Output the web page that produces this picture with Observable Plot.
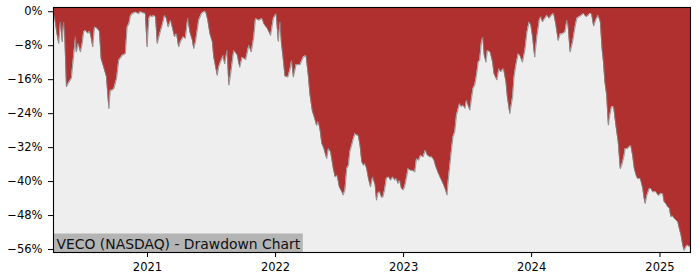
<!DOCTYPE html>
<html><head><meta charset="utf-8">
<script src="https://cdn.jsdelivr.net/npm/d3@7"></script>
<script src="https://cdn.jsdelivr.net/npm/@observablehq/plot@0.6"></script>
<style>body{margin:0;background:#fff;} #chart svg{display:block;}</style>
</head><body><div id="chart"></div>
<script>
const title = "VECO (NASDAQ) - Drawdown Chart";
const yTicks = [0, -8, -16, -24, -32, -40, -48, -56];
const xTicks = ["2021-01-01", "2022-01-01", "2023-01-01", "2024-01-01", "2025-01-01"];
const dates = [
"2020-04-08","2020-04-11","2020-04-18","2020-04-23","2020-04-28","2020-05-03","2020-05-07","2020-05-10","2020-05-15","2020-05-21",
"2020-05-29","2020-06-05","2020-06-10","2020-06-12","2020-06-18","2020-06-24","2020-06-29","2020-07-03","2020-07-08","2020-07-15",
"2020-07-20","2020-07-24","2020-07-29","2020-08-03","2020-08-10","2020-08-17","2020-08-22","2020-08-29","2020-09-06","2020-09-13",
"2020-09-17","2020-09-22","2020-09-27","2020-10-05","2020-10-11","2020-10-21","2020-10-30","2020-11-04","2020-11-09","2020-11-13",
"2020-11-18","2020-11-28","2020-12-07","2020-12-12","2020-12-20","2020-12-26","2020-12-31",
"2021-01-05","2021-01-10","2021-01-14","2021-01-19","2021-01-24","2021-01-29","2021-02-05","2021-02-12","2021-02-19","2021-02-24",
"2021-03-01","2021-03-08","2021-03-15","2021-03-19","2021-03-25","2021-03-31","2021-04-05","2021-04-13","2021-04-19","2021-04-26",
"2021-05-02","2021-05-09","2021-05-13","2021-05-18","2021-05-27","2021-06-04","2021-06-11","2021-06-16","2021-06-22","2021-06-28",
"2021-07-05","2021-07-09","2021-07-19","2021-07-23","2021-07-28","2021-08-05","2021-08-09","2021-08-16","2021-08-21","2021-08-26",
"2021-09-04","2021-09-14","2021-09-21","2021-09-28","2021-10-08","2021-10-17","2021-10-24","2021-10-31","2021-11-05","2021-11-15",
"2021-11-24","2021-11-29","2021-12-09","2021-12-18","2021-12-26",
"2022-01-03","2022-01-09","2022-01-14","2022-01-18","2022-01-23","2022-01-28","2022-02-05","2022-02-11","2022-02-16","2022-02-21",
"2022-03-01","2022-03-12","2022-03-21","2022-03-29","2022-04-05","2022-04-09","2022-04-16","2022-04-23","2022-04-28","2022-05-03",
"2022-05-08","2022-05-13","2022-05-19","2022-05-27","2022-06-01","2022-06-07","2022-06-15","2022-06-20","2022-06-26","2022-07-02",
"2022-07-09","2022-07-13","2022-07-18","2022-07-23","2022-07-28","2022-08-01","2022-08-06","2022-08-11","2022-08-16","2022-08-20",
"2022-08-25","2022-08-30","2022-09-04","2022-09-09","2022-09-13","2022-09-18","2022-09-23","2022-09-29","2022-10-05","2022-10-12",
"2022-10-16","2022-10-20","2022-10-25","2022-10-30","2022-11-03","2022-11-08","2022-11-13","2022-11-20","2022-11-25","2022-12-02",
"2022-12-07","2022-12-12","2022-12-16","2022-12-21","2022-12-26","2022-12-31",
"2023-01-04","2023-01-09","2023-01-14","2023-01-22","2023-01-28","2023-02-02","2023-02-07","2023-02-13","2023-02-19","2023-02-26",
"2023-03-04","2023-03-10","2023-03-17","2023-03-23","2023-03-29","2023-04-02","2023-04-09","2023-04-17","2023-04-24","2023-05-01",
"2023-05-05","2023-05-08","2023-05-13","2023-05-18","2023-05-22","2023-05-27","2023-06-01","2023-06-06","2023-06-10","2023-06-15",
"2023-06-20","2023-06-25","2023-06-30","2023-07-04","2023-07-09","2023-07-14","2023-07-18","2023-07-23","2023-07-28","2023-08-02",
"2023-08-06","2023-08-11","2023-08-15","2023-08-19","2023-08-24","2023-08-28","2023-09-05","2023-09-12","2023-09-16","2023-09-24",
"2023-09-30","2023-10-05","2023-10-13","2023-10-20","2023-10-24","2023-10-31","2023-11-08","2023-11-12","2023-11-17","2023-11-24",
"2023-11-29","2023-12-06","2023-12-13","2023-12-19","2023-12-25","2023-12-30",
"2024-01-04","2024-01-10","2024-01-16","2024-01-23","2024-01-28","2024-02-01","2024-02-08","2024-02-14","2024-02-20","2024-02-27",
"2024-03-04","2024-03-10","2024-03-17","2024-03-23","2024-03-29","2024-04-05","2024-04-11","2024-04-14","2024-04-20","2024-04-27",
"2024-05-04","2024-05-09","2024-05-16","2024-05-23","2024-05-28","2024-06-04","2024-06-09","2024-06-16","2024-06-20","2024-06-26",
"2024-07-02","2024-07-09","2024-07-15","2024-07-20","2024-07-24","2024-07-28","2024-08-02","2024-08-07","2024-08-11","2024-08-16",
"2024-08-22","2024-08-26","2024-08-31","2024-09-04","2024-09-10","2024-09-14","2024-09-20","2024-09-24","2024-10-01","2024-10-06",
"2024-10-10","2024-10-15","2024-10-20","2024-10-25","2024-10-29","2024-11-06","2024-11-13","2024-11-17","2024-11-20","2024-11-25",
"2024-12-02","2024-12-06","2024-12-11","2024-12-16","2024-12-21","2024-12-26","2024-12-30",
"2025-01-04","2025-01-09","2025-01-13","2025-01-18","2025-01-23","2025-01-28","2025-02-01","2025-02-06","2025-02-11","2025-02-16",
"2025-02-21","2025-02-25","2025-03-02","2025-03-07","2025-03-11","2025-03-16","2025-03-21","2025-03-26","2025-03-29"
];
const drawdown = [
-0.7,-1.2,-5.2,-7.5,-2.4,-7.1,-2.4,-5.2,-17.7,-16.8,
-15.7,-9.9,-5.9,-9.5,-7.5,-9.5,-7.5,-4.8,-4.4,-5.1,
-4.6,-5.9,-8.3,-3.6,-3.9,-4.6,-11.1,-13.0,-15.3,-22.8,
-18.5,-18.5,-18.2,-15.7,-11.5,-10.3,-9.9,-3.6,-2.9,-1.2,
-0.5,-0.1,-0.5,0,-0.3,-0.4,-8.3,
-1.6,-0.9,-1.2,-0.9,-1.2,-7.5,-5.2,-3.2,-0.8,-1.6,
-3.6,-2.0,-4.4,-5.9,-5.2,-8.3,-7.1,-5.9,-6.3,-1.5,
-4.8,-6.7,-8.7,-7.1,-2.0,-0.5,0,0,-2.0,-5.2,
-7.1,-10.7,-15.0,-13.0,-11.9,-10.3,-12.3,-9.1,-17.3,-14.8,
-9.1,-10.2,-13.1,-10.7,-11.3,-7.9,-9.5,-6.0,-1.6,-2.0,
-1.6,-2.9,-4.0,-5.6,-1.6,
-0.5,-7.0,-2.4,-7.5,-11.1,-15.2,-15.4,-13.8,-11.5,-15.4,
-12.4,-12.5,-10.7,-10.3,-15.4,-19.3,-23.4,-25.2,-26.8,-25.9,
-27.8,-31.0,-32.2,-34.6,-32.2,-33.0,-37.0,-38.9,-38.6,-41.3,
-42.4,-43.2,-42.0,-37.0,-36.2,-33.0,-31.5,-29.9,-28.7,-29.1,
-29.1,-31.5,-35.4,-36.2,-35.8,-37.0,-39.3,-41.3,-38.9,-40.8,
-44.4,-42.8,-42.4,-43.7,-43.7,-42.0,-39.3,-38.9,-39.7,-38.9,
-39.7,-39.3,-40.5,-39.7,-41.6,-42.0,
-41.3,-39.3,-37.0,-37.4,-37.4,-37.8,-34.6,-35.0,-33.8,-34.2,
-32.6,-33.8,-34.2,-34.2,-35.0,-36.2,-37.8,-39.3,-40.5,-42.0,
-43.2,-40.1,-36.2,-32.2,-29.5,-28.3,-24.4,-22.8,-21.6,-22.4,
-22.0,-22.8,-20.8,-22.0,-23.2,-20.4,-18.1,-17.3,-15.0,-11.9,
-11.5,-7.1,-6.0,-10.2,-11.9,-9.1,-9.5,-11.9,-14.6,-16.1,
-13.4,-14.2,-13.4,-16.5,-20.0,-24.0,-20.0,-15.4,-12.7,-9.9,
-10.3,-11.9,-9.1,-4.8,-2.4,-3.2,
-6.0,-10.7,-6.0,-2.0,-1.2,-2.4,-1.6,-0.8,-1.6,-0.8,
-0.4,-2.9,-6.8,-5.2,-5.2,-4.8,-2.0,-3.2,-9.5,-7.1,
-3.6,-1.6,-1.2,-0.8,-0.4,-1.2,-1.0,-0.4,-0.5,-3.4,
-2.0,-0.8,-2.4,-8.7,-11.9,-16.5,-19.6,-26.7,-24.4,-22.4,
-22.4,-25.2,-28.3,-30.7,-37.0,-36.2,-34.2,-32.2,-32.2,-31.8,
-31.5,-33.8,-37.0,-38.5,-39.3,-39.3,-41.6,-44.0,-45.2,-43.2,
-41.6,-41.6,-42.4,-42.4,-42.4,-43.2,-43.2,
-42.8,-42.8,-44.8,-45.2,-46.0,-46.3,-48.3,-48.1,-48.7,-49.1,
-49.5,-51.0,-52.6,-55.0,-56.2,-55.4,-55.0,-55.4,-55.2
];

const data = dates.map((d, i) => ({date: new Date(d + "T00:00:00Z"), dd: drawdown[i]}));
const yBottom = -56.7, yTop = 1.0;
const W = 700, H = 280, mL = 53, mR = 10, mT = 7, mB = 28;

const chart = Plot.plot({
  width: W, height: H,
  marginLeft: mL, marginRight: mR, marginTop: mT, marginBottom: mB,
  style: {fontFamily: "'DejaVu Sans', sans-serif", fontSize: "11.5px", color: "#000", background: "#fff", overflow: "visible"},
  x: {type: "utc", domain: d3.extent(data, d => d.date), ticks: xTicks.map(d => new Date(d + "T00:00:00Z")),
      tickFormat: d3.utcFormat("%Y"), tickSize: 5, tickPadding: 5, label: null},
  y: {domain: [yBottom, yTop], ticks: yTicks,
      tickFormat: d => d === 0 ? "0%" : "\u2212" + Math.abs(d) + "%", tickSize: 5, tickPadding: 6, label: null},
  marks: [
    Plot.frame({fill: "#b03030"}),
    Plot.areaY(data, {x: "date", y1: yBottom, y2: "dd", fill: "#eeeeee"}),
    Plot.lineY(data, {x: "date", y: "dd", stroke: "#858585", strokeWidth: 0.8}),
    Plot.text([title], {text: d => d, frameAnchor: "bottom-left", textAnchor: "start", lineAnchor: "bottom",
      dx: 3, dy: -4, fontSize: 13.9, fill: "#111"}),
    Plot.frame({stroke: "#000", strokeWidth: 1.1})
  ]
});
document.getElementById("chart").appendChild(chart);

// background box behind the title label (measured in screen space)
const t = Array.from(chart.querySelectorAll("text")).find(e => e.textContent === title);
if (t) {
  const sb = chart.getBoundingClientRect();
  const tb = t.getBoundingClientRect();
  const ns = "http://www.w3.org/2000/svg";
  const r = document.createElementNS(ns, "rect");
  const top = tb.top - sb.top - 2;
  const right = tb.right - sb.left + 2;
  r.setAttribute("x", mL);
  r.setAttribute("y", top);
  r.setAttribute("width", right - mL);
  r.setAttribute("height", (H - mB) - top);
  r.setAttribute("fill", "#b4b4b4");
  let g = t;
  while (g.parentNode && g.parentNode !== chart) g = g.parentNode;
  chart.insertBefore(r, g);
}
</script>
</body></html>
